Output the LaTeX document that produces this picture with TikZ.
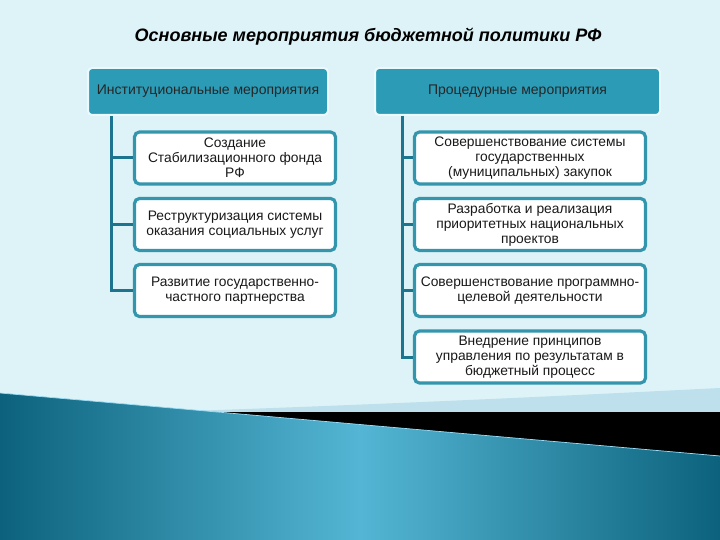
\documentclass[tikz,border=0pt]{standalone}
\usepackage{fontspec}
\setmainfont{Liberation Sans}
\definecolor{slidebg}{RGB}{221,243,248}
\definecolor{headfill}{RGB}{44,155,182}
\definecolor{headrim}{RGB}{236,249,252}
\definecolor{itemrim}{RGB}{52,150,172}
\definecolor{trunk}{RGB}{28,116,142}
\definecolor{deepteal}{RGB}{12,98,124}
\definecolor{paleteal}{RGB}{84,182,212}
\definecolor{swoosh}{RGB}{190,224,237}

\begin{document}
\begin{tikzpicture}[x=1pt,y=-1pt,
    head/.style={rectangle, rounded corners=4pt, fill=headfill, draw=headrim,
      line width=2pt, minimum height=47pt, text=black!85,
      font=\fontsize{14}{16}\selectfont},
    item/.style={rectangle, rounded corners=5pt, fill=white, draw=itemrim,
      line width=3.2pt, minimum height=52pt, align=center, text=black!90,
      inner sep=2pt, font=\fontsize{13.8}{15}\selectfont},
    conn/.style={draw=trunk, line width=3pt}]
  \useasboundingbox (0,0) rectangle (720,540);
  \fill[slidebg] (0,0) rectangle (720,540);

  % bottom of the slide
  \fill[swoosh] (160,412) .. controls (400,404) and (600,394) .. (720,388)
      -- (720,412) -- cycle;
  \fill[black] (160,412) -- (720,412) -- (720,456) -- cycle;
  \shade[left color=deepteal, right color=deepteal, middle color=paleteal]
      (0,393) -- (720,456) -- (720,540) -- (0,540) -- cycle;
  \draw[white!60!cyan, line width=0.7pt] (0,393) -- (720,456);

  \node[font=\fontsize{18}{21}\selectfont\bfseries\itshape] (title)
      at (368,37) {Основные мероприятия бюджетной политики РФ};

  \node[head, minimum width=240pt] (lh) at (208,91.5)
      {Институциональные мероприятия};
  \node[head, minimum width=285pt] (rh) at (517.5,91.5)
      {Процедурные мероприятия};

  \node[item, minimum width=201pt] (l1) at (235,158)
      {Создание\\Стабилизационного фонда\\РФ};
  \node[item, minimum width=201pt] (l2) at (235,224.5)
      {Реструктуризация системы\\оказания социальных услуг};
  \node[item, minimum width=201pt] (l3) at (235,290.5)
      {Развитие государственно-\\частного партнерства};

  \node[item, minimum width=231pt] (r1) at (530,158)
      {Совершенствование системы\\государственных\\(муниципальных) закупок};
  \node[item, minimum width=231pt] (r2) at (530,224.5)
      {Разработка и реализация\\приоритетных национальных\\проектов};
  \node[item, minimum width=231pt] (r3) at (530,290.5)
      {Совершенствование программно-\\целевой деятельности};
  \node[item, minimum width=231pt] (r4) at (530,357)
      {Внедрение принципов\\управления по результатам в\\бюджетный процесс};

  \coordinate (lt) at ([xshift=24pt]lh.south west);
  \coordinate (rt) at ([xshift=28pt]rh.south west);

  \draw[conn] (lt) |- (l3.west);
  \foreach \i in {1,2}
    \draw[conn] (l\i.west) -- (l\i.west -| lt);

  \draw[conn] (rt) |- (r4.west);
  \foreach \i in {1,2,3}
    \draw[conn] (r\i.west) -- (r\i.west -| rt);
\end{tikzpicture}
\end{document}
